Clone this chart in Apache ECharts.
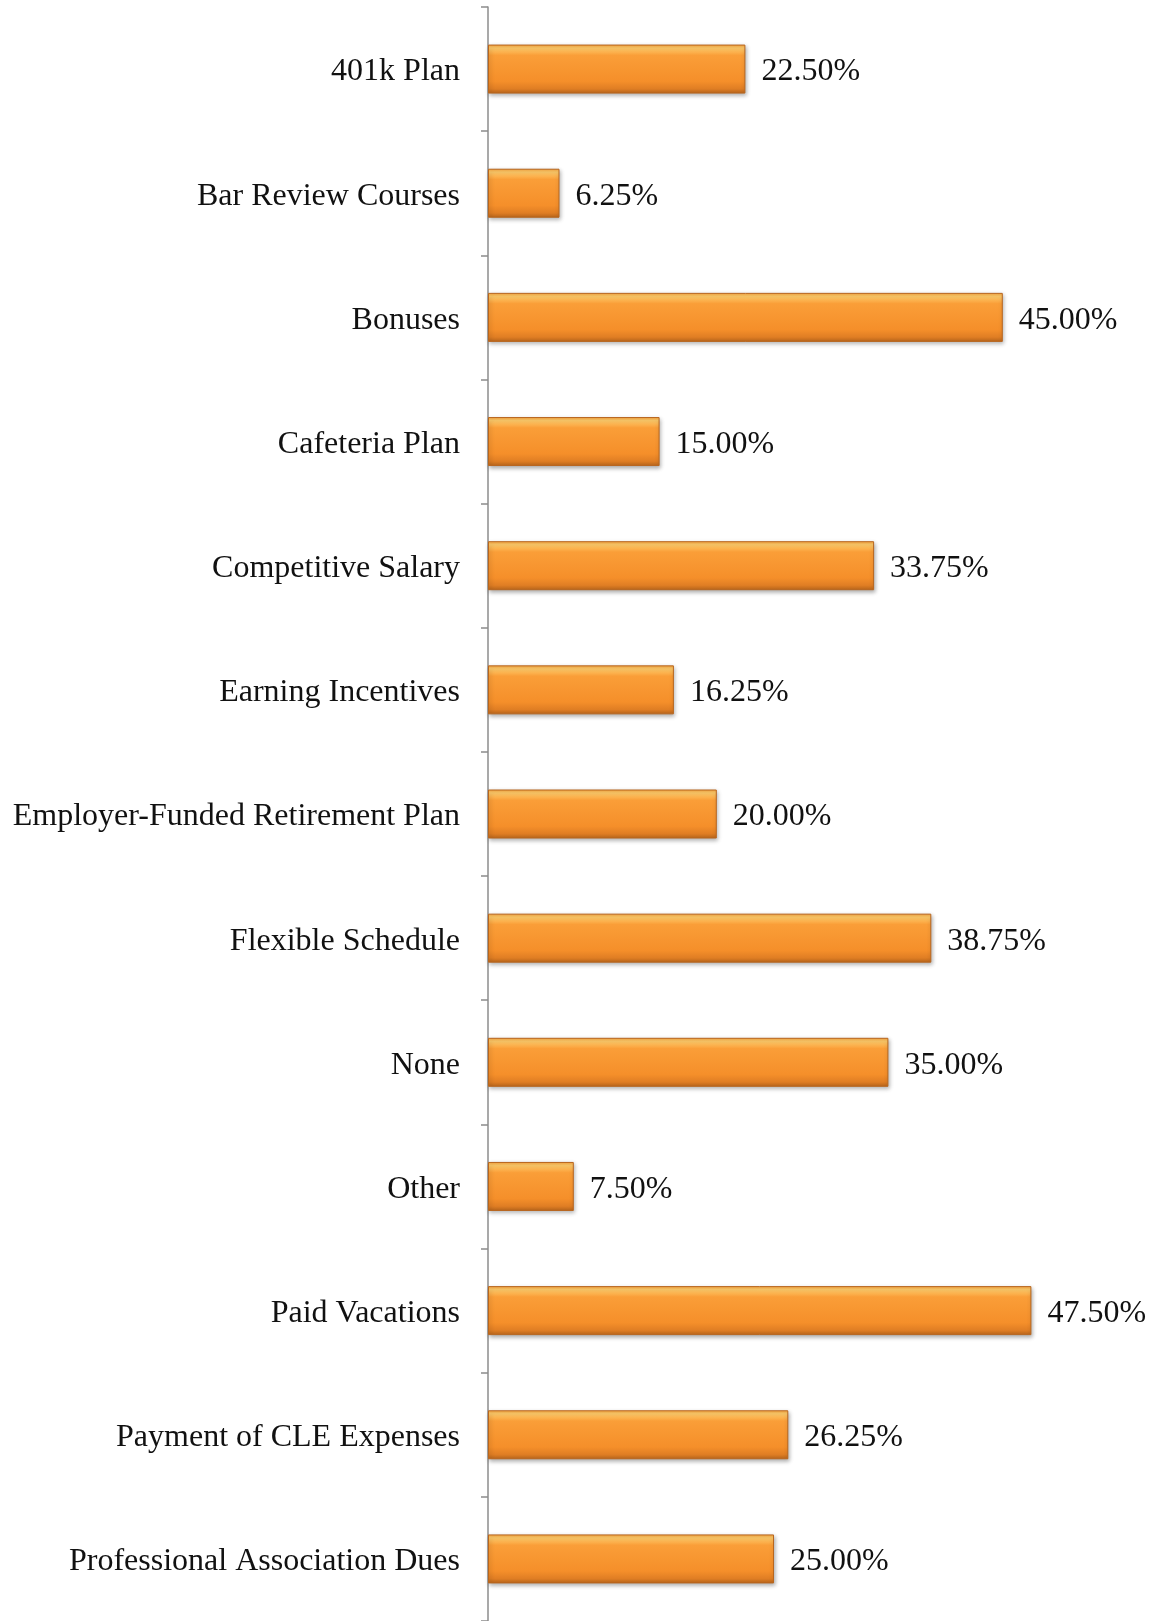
<!DOCTYPE html>
<html>
<head>
<meta charset="utf-8">
<script src="https://cdn.jsdelivr.net/npm/echarts@6/dist/echarts.min.js"></script>
<style>
html,body{margin:0;padding:0;background:#fff;}
#chart{width:1160px;height:1621px;}
</style>
</head>
<body>
<div id="chart"></div>
<script>
const categories = [
  "401k Plan",
  "Bar Review Courses",
  "Bonuses",
  "Cafeteria Plan",
  "Competitive Salary",
  "Earning Incentives",
  "Employer-Funded Retirement Plan",
  "Flexible Schedule",
  "None",
  "Other",
  "Paid Vacations",
  "Payment of CLE Expenses",
  "Professional Association Dues"
];
const values = [22.5, 6.25, 45.0, 15.0, 33.75, 16.25, 20.0, 38.75, 35.0, 7.5, 47.5, 26.25, 25.0];

const chart = echarts.init(document.getElementById('chart'), null, {renderer: 'canvas'});
const barColor = new echarts.graphic.LinearGradient(0, 0, 0, 1, [
  {offset: 0, color: '#F9A43E'},
  {offset: 0.07, color: '#FFCB6A'},
  {offset: 0.22, color: '#FA9E38'},
  {offset: 0.75, color: '#F58F2A'},
  {offset: 0.9, color: '#E07E24'},
  {offset: 1, color: '#B9661C'}
]);
chart.setOption({
  animation: false,
  backgroundColor: '#ffffff',
  grid: {left: 488, top: 7, width: 572, height: 1616, containLabel: false},
  xAxis: {
    type: 'value', min: 0, max: 50,
    show: false
  },
  yAxis: {
    type: 'category',
    data: categories,
    inverse: true,
    axisLine: {show: true, lineStyle: {color: '#8c8c8c', width: 1.5}},
    axisTick: {show: true, length: 7, lineStyle: {color: '#8c8c8c', width: 1.5}},
    axisLabel: {
      margin: 28,
      formatter: v => '{a|' + v + '}',
      rich: {
        a: {
          fontFamily: 'Liberation Serif',
          fontSize: 32,
          color: '#111',
          padding: [6, 0, 0, 0]
        }
      }
    }
  },
  series: [{
    type: 'bar',
    data: values,
    barWidth: 49,
    itemStyle: {
      color: barColor,
      borderColor: '#B8661E',
      borderWidth: 1,
      shadowColor: 'rgba(0,0,0,0.3)',
      shadowBlur: 4,
      shadowOffsetX: 1,
      shadowOffsetY: 2
    },
    label: {
      show: true,
      position: 'right',
      distance: 16,
      offset: [0, 3],
      formatter: p => p.value.toFixed(2) + '%',
      fontFamily: 'Liberation Serif',
      fontSize: 32,
      color: '#111'
    }
  }]
});
</script>
</body>
</html>
